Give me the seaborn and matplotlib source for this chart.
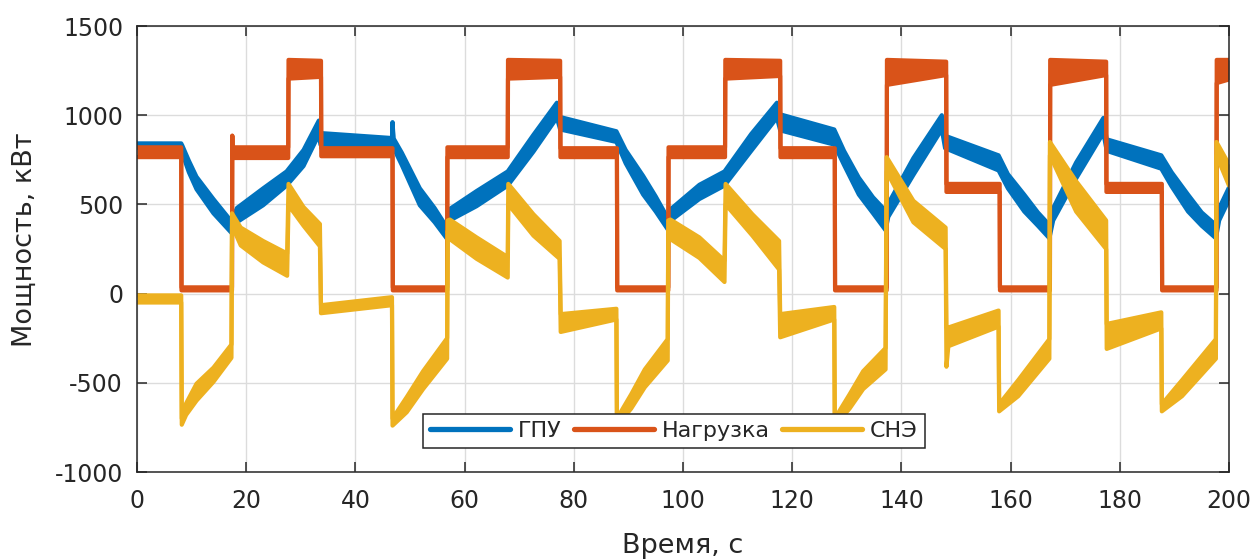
import matplotlib
matplotlib.use("Agg")
import matplotlib.pyplot as plt
from matplotlib.lines import Line2D
import pandas as pd
import seaborn as sns

# Power traces, kW: each series is stored as the lower and upper envelope of
# its oscillating band, sampled at breakpoints (repeated times mark step changes).
gpu_t = [0, 8.1, 8.3, 9.5, 10.9, 14.0, 17.3, 18.3, 23.1, 27.4, 30.5, 33.3, 33.6, 46.7, 46.8,
         47.0, 48.5, 51.8, 54.5, 56.7, 57.3, 62.2, 67.9, 72.6, 76.9, 77.5, 87.8, 89.5, 92.7,
         95.0, 97.2, 97.8, 103.0, 107.6, 112.5, 117.2, 117.8, 127.7, 129.5, 132.2, 134.8,
         137.1, 137.6, 142.2, 147.4, 148.0, 157.8, 159.5, 162.5, 165.0, 167.1, 167.8, 172.0,
         177.0, 177.6, 187.6, 189.5, 192.5, 195.0, 197.6, 198.2, 200]
gpu_lo = [818, 818, 785, 680, 585, 450, 340, 400, 495, 605, 715, 890, 835, 822, 960,
          815, 720, 495, 400, 310, 410, 490, 605, 795, 985, 920, 850, 730, 555,
          460, 360, 410, 530, 605, 800, 985, 915, 835, 720, 555, 450,
          355, 430, 665, 920, 815, 690, 590, 460, 380, 310, 410, 645,
          900, 800, 700, 600, 460, 380, 310, 410, 525]
gpu_hi = [842, 842, 830, 745, 655, 530, 405, 480, 590, 685, 805, 970, 900, 872, 960,
          870, 790, 590, 480, 375, 475, 575, 685, 890, 1070, 990, 910, 805, 660,
          545, 425, 475, 610, 685, 895, 1070, 1005, 920, 800, 650, 540,
          465, 505, 760, 1000, 885, 775, 670, 555, 455, 385, 480, 735,
          985, 865, 775, 680, 555, 455, 385, 480, 595]

load_t = [0, 8.1, 8.15, 17.4, 17.45, 17.5, 27.7, 27.75, 33.7, 33.75, 46.8, 46.85, 56.8, 56.85,
          67.9, 67.95, 77.5, 77.55, 87.9, 87.95, 97.3, 97.35, 107.7, 107.75, 117.8, 117.85,
          127.8, 127.85, 137.3, 137.35, 148.2, 148.25, 158.0, 158.05, 167.2, 167.25, 177.5,
          177.55, 187.7, 187.75, 197.7, 197.75, 200]
load_lo = [765, 765, 18, 18, 885, 760, 760, 1205, 1215, 770, 770, 18, 18, 765,
           765, 1205, 1215, 765, 765, 18, 18, 765, 765, 1205, 1220, 765,
           765, 18, 18, 1170, 1225, 570, 570, 18, 18, 1170, 1225,
           570, 570, 18, 18, 1180, 1200]
load_hi = [820, 820, 35, 35, 885, 820, 820, 1310, 1305, 815, 815, 35, 35, 820,
           820, 1310, 1305, 815, 815, 35, 35, 820, 820, 1310, 1305, 815,
           815, 35, 35, 1310, 1300, 615, 615, 35, 35, 1310, 1300,
           615, 615, 35, 35, 1310, 1310]

sne_t = [0, 8.1, 8.2, 9.0, 10.9, 14.0, 17.3, 17.4, 19.0, 23.1, 27.5, 27.75, 30.5, 33.5, 33.7,
         46.7, 46.8, 49.4, 52.4, 56.8, 56.9, 57.3, 62.2, 67.9, 68.0, 72.6, 77.4, 77.6, 87.8,
         87.9, 90.5, 93.0, 97.2, 97.3, 97.7, 103.0, 107.6, 107.8, 112.7, 117.6, 117.8, 127.7,
         127.8, 130.5, 133.0, 137.1, 137.3, 142.2, 148.1, 148.25, 148.6, 157.8, 157.9, 161.4,
         167.1, 167.2, 172.0, 177.5, 177.6, 187.6, 187.7, 191.4, 197.6, 197.7, 200]
sne_lo = [-50, -50, -735, -680, -600, -495, -360, 380, 270, 175, 100, 495, 380, 265, -110,
          -65, -740, -665, -535, -365, 350, 305, 195, 90, 500, 325, 195, -215, -145,
          -740, -645, -525, -375, 350, 305, 200, 65, 500, 325, 135, -245, -145,
          -740, -645, -535, -425, 685, 400, 250, -410, -295, -185, -660, -575,
          -365, 775, 460, 250, -310, -195, -660, -575, -365, 775, 605]
sne_hi = [-10, -10, -700, -615, -505, -415, -285, 450, 370, 295, 225, 615, 485, 390, -65,
          -20, -700, -580, -435, -250, 410, 415, 315, 205, 615, 445, 295, -115, -85,
          -700, -565, -425, -255, 410, 415, 315, 185, 615, 445, 295, -115, -75,
          -700, -565, -435, -305, 765, 520, 370, -190, -190, -95, -620, -485,
          -255, 850, 630, 410, -170, -105, -620, -485, -255, 850, 725]

series_names = ["ГПУ", "Нагрузка", "СНЭ"]
series_colors = ["#0072BD", "#D95319", "#EDB120"]
x_ticks = list(range(0, 201, 20))
y_ticks = [-1000, -500, 0, 500, 1000, 1500]

sns.set_theme(style="whitegrid")
plt.rcParams["font.family"] = ["DejaVu Sans"]
plt.rcParams["axes.unicode_minus"] = False
text_color = "#262626"

fig = plt.figure(figsize=(12.54, 5.59), dpi=100)
ax = fig.add_axes([137 / 1254, 1 - 472 / 559, 1092 / 1254, 446 / 559])

traces = [(gpu_t, gpu_lo, gpu_hi), (load_t, load_lo, load_hi), (sne_t, sne_lo, sne_hi)]
for i, ((t, lo, hi), name, color) in enumerate(zip(traces, series_names, series_colors)):
    df = pd.DataFrame({
        "time": list(t) + list(t),
        "power": list(lo) + list(hi),
        "edge": ["lo"] * len(t) + ["hi"] * len(t),
    })
    ax.fill_between(t, lo, hi, color=color, lw=0, zorder=3 + i)
    sns.lineplot(data=df, x="time", y="power", units="edge", estimator=None, sort=False,
                 color=color, lw=3.0, ax=ax, legend=False, zorder=3 + i)

ax.set_xlim(0, 200)
ax.set_ylim(-1000, 1500)
ax.set_xticks(x_ticks)
ax.set_yticks(y_ticks)
ax.grid(True, color="#dcdcdc", lw=1.0)
ax.set_axisbelow(True)
for side in ["left", "right", "top", "bottom"]:
    ax.spines[side].set_visible(True)
    ax.spines[side].set_color(text_color)
    ax.spines[side].set_linewidth(1.1)
    ax.spines[side].set_zorder(10)
ax.tick_params(axis="both", which="major", direction="in", length=7, width=1.1,
               color=text_color, labelcolor=text_color, labelsize=17,
               top=True, right=True, bottom=True, left=True)
ax.tick_params(axis="x", pad=12)
ax.tick_params(axis="y", pad=10)

ax.set_xlabel("Время, с", fontsize=19.5, color=text_color, va="center")
ax.set_ylabel("Мощность, кВт", fontsize=19.5, color=text_color, va="center")
ax.xaxis.set_label_coords(0.5, (472 - 546) / 446)
ax.yaxis.set_label_coords((25 - 137) / 1092, (472 - 240) / 446)

handles = [Line2D([], [], color=c, lw=3.8) for c in series_colors]
leg = ax.legend(handles, series_names, ncol=3, loc="center",
                bbox_to_anchor=((674 - 137) / 1092, (472 - 431) / 446),
                fontsize=16, frameon=True, fancybox=False, framealpha=1,
                edgecolor=text_color, handlelength=3.6, handletextpad=0.36,
                columnspacing=0.55, borderpad=0.3, borderaxespad=0)
leg.get_frame().set_linewidth(1.1)
leg.set_zorder(20)
for txt in leg.get_texts():
    txt.set_color(text_color)

fig.savefig("out.png", dpi=100, facecolor="white")
